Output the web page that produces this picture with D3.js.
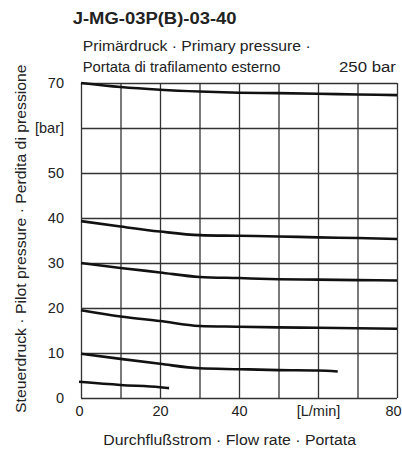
<!DOCTYPE html>
<html>
<head>
<meta charset="utf-8">
<script src="https://cdn.jsdelivr.net/npm/d3@7"></script>
<style>
  html, body { margin: 0; padding: 0; background: #fff; }
  svg { display: block; font-family: "Liberation Sans", Arial, sans-serif; }
</style>
</head>
<body>
<svg id="chart" width="402" height="449"></svg>
<script>
// ---- data ----
const title = "J-MG-03P(B)-03-40";
const subtitle1 = "Primärdruck · Primary pressure ·";
const subtitle2 = "Portata di trafilamento esterno";
const pressureNote = "250 bar";
const xTitle = "Durchflußstrom · Flow rate · Portata";
const yTitle = "Steuerdruck · Pilot pressure · Perdita di pressione";

const xTicks = [0, 10, 20, 30, 40, 50, 60, 70, 80];
const xTickLabels = {0: "0", 20: "20", 40: "40", 60: "[L/min]", 80: "80"};
const yTicks = [0, 10, 20, 30, 40, 50, 60, 70];
const yTickLabels = {0: "0", 10: "10", 20: "20", 30: "30", 40: "40", 50: "50", 60: "[bar]", 70: "70"};

const curve70 = [[0, 70.0], [10, 69.1], [20, 68.5], [30, 68.1], [40, 67.85], [50, 67.75], [60, 67.6], [70, 67.45], [80, 67.3]];
const curve40 = [[0, 39.3], [10, 38.1], [20, 37.0], [30, 36.2], [40, 36.05], [50, 35.9], [60, 35.7], [70, 35.55], [80, 35.35]];
const curve30 = [[0, 30.0], [10, 28.9], [20, 27.9], [30, 26.9], [40, 26.65], [50, 26.4], [60, 26.3], [70, 26.2], [80, 26.1]];
const curve20 = [[0, 19.5], [10, 18.1], [20, 17.1], [30, 16.0], [40, 15.85], [50, 15.7], [60, 15.6], [70, 15.5], [80, 15.4]];
const curve10 = [[0, 9.85], [10, 8.7], [20, 7.6], [30, 6.6], [40, 6.4], [50, 6.2], [60, 6.1], [65, 5.9]];
const curve03 = [[-0.5, 3.6], [10, 2.9], [20, 2.4], [22.3, 2.2]];
const curves = [curve70, curve40, curve30, curve20, curve10, curve03];

// ---- layout ----
const svg = d3.select("#chart");
const mLeft = 81, mRight = 397, mTop = 83, mBottom = 398;
const x = d3.scaleLinear().domain([0, 80]).range([mLeft, mRight]);
const y = d3.scaleLinear().domain([0, 70]).range([mBottom, mTop]);
const textColor = "#222";
const gridColor = "#333";
const tickFont = 14.5;

// grid + x labels
const gx = svg.append("g")
  .attr("transform", `translate(0,${mBottom})`)
  .call(d3.axisBottom(x).tickValues(xTicks)
    .tickSize(-(mBottom - mTop)).tickPadding(8)
    .tickFormat(d => xTickLabels[d] || ""));
gx.select(".domain").remove();
gx.selectAll(".tick line").attr("stroke", gridColor).attr("stroke-width", 1.3);
gx.selectAll(".tick text").attr("fill", textColor).attr("font-size", tickFont)
  .attr("font-family", "'Liberation Sans', Arial, sans-serif")
  .attr("dx", d => d === 80 ? -4 : (d === 0 ? -2 : 0));

const gy = svg.append("g")
  .attr("transform", `translate(${mLeft},0)`)
  .call(d3.axisLeft(y).tickValues(yTicks)
    .tickSize(-(mRight - mLeft)).tickPadding(17)
    .tickFormat(d => yTickLabels[d]));
gy.select(".domain").remove();
gy.selectAll(".tick line").attr("stroke", gridColor).attr("stroke-width", 1.3);
gy.selectAll(".tick text").attr("fill", textColor).attr("font-size", tickFont)
  .attr("font-family", "'Liberation Sans', Arial, sans-serif");

// curves
const line = d3.line().x(d => x(d[0])).y(d => y(d[1])).curve(d3.curveMonotoneX);
svg.append("g").selectAll("path").data(curves).join("path")
  .attr("d", line)
  .attr("fill", "none")
  .attr("stroke", "#111")
  .attr("stroke-width", 2.6)
  .attr("stroke-linecap", "butt");

// stretched text helper: places text at (tx,ty), rotated, scaled horizontally to target width
function stretchedText(str, tx, ty, size, width, opts = {}) {
  const t = svg.append("text").text(str)
    .attr("font-size", size)
    .attr("font-weight", opts.bold ? "bold" : "normal")
    .attr("fill", textColor);
  const natural = t.node().getComputedTextLength();
  const sx = width / natural;
  const rot = opts.rotate ? ` rotate(${opts.rotate})` : "";
  t.attr("transform", `translate(${tx},${ty})${rot} scale(${sx},1)`);
  return t;
}

stretchedText(title, 72.7, 24, 17, 164, {bold: true});
stretchedText(subtitle1, 82.7, 50.5, 15, 228);
stretchedText(subtitle2, 82.7, 72, 15, 198);
stretchedText(pressureNote, 339, 72, 15, 57);
stretchedText(xTitle, 103.3, 445, 15, 253);
stretchedText(yTitle, 26, 413, 15, 349, {rotate: -90});
</script>
</body>
</html>
